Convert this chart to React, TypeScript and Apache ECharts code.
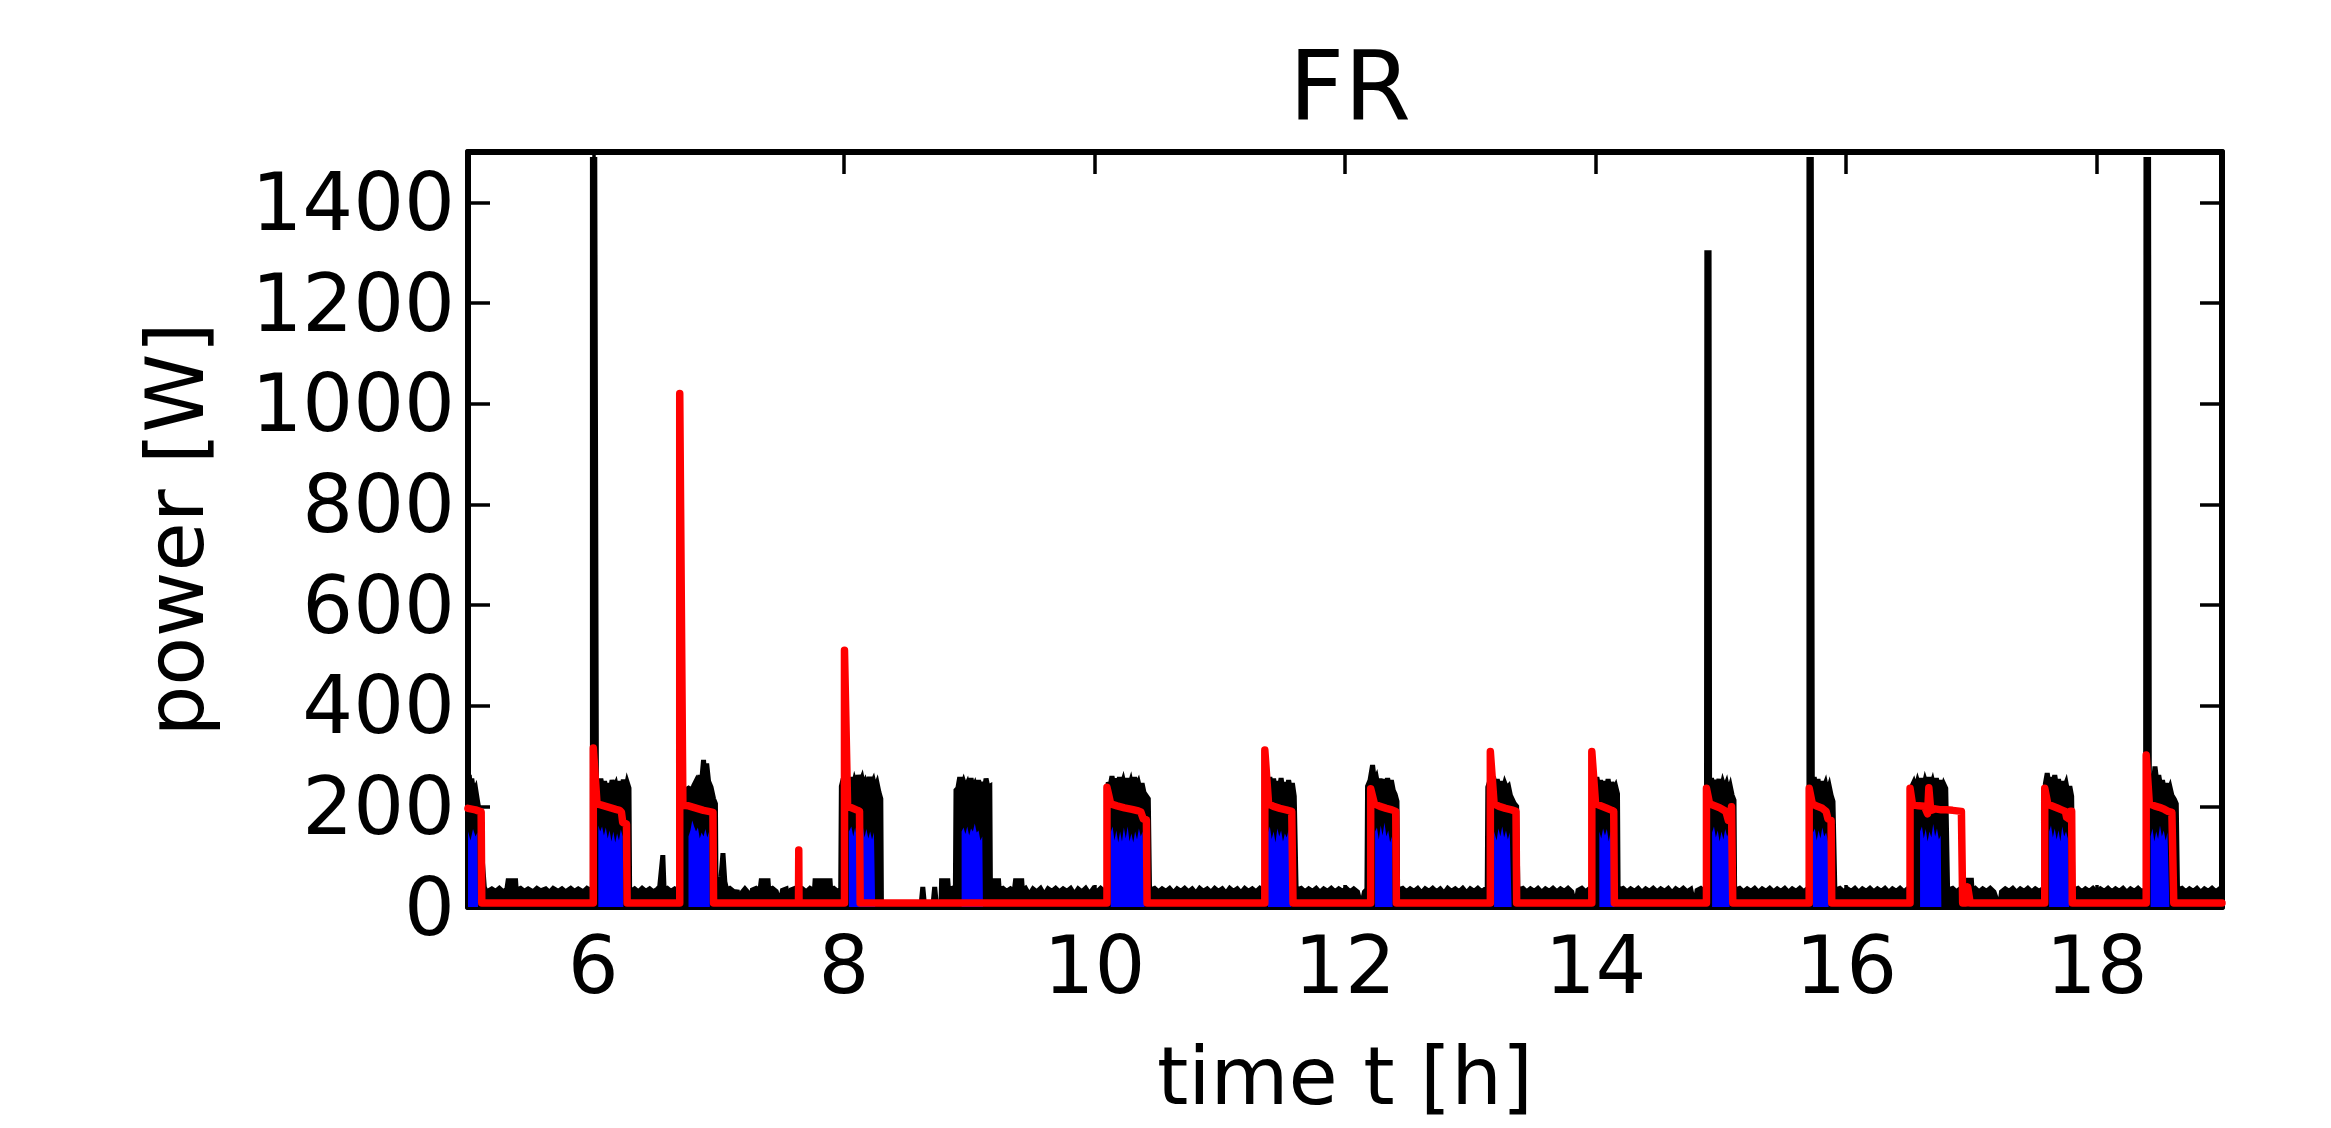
import React, { useEffect, useRef } from "react";
import * as echarts from "echarts";

const titleText = "FR";
const xName = "time t [h]";
const yName = "power [W]";
const xTicks = [6, 8, 10, 12, 14, 16, 18];
const yTicks = [0, 200, 400, 600, 800, 1000, 1200, 1400];

// measured power (black)
const measuredPower: [number, number][] = [
  [5.0, 250], [5.01, 262], [5.02, 238], [5.03, 255], [5.045, 228], [5.06, 236], [5.075, 212], [5.09, 190], [5.1, 150], [5.115, 90], [5.13, 40], [5.14, 33],
  [5.15, 30], [5.19, 36], [5.22, 31], [5.25, 37], [5.28, 30], [5.31, 35], [5.32, 52], [5.38, 52], [5.385, 33], [5.42, 37], [5.45, 31], [5.48, 36], [5.52, 30], [5.55, 37], [5.58, 32], [5.62, 36], [5.65, 29], [5.68, 37], [5.72, 31], [5.75, 36], [5.78, 30], [5.82, 37], [5.85, 31], [5.88, 36], [5.92, 30], [5.95, 37], [5.985, 32],
  [5.993, 35], [5.993, 1485], [6.012, 1485], [6.025, 250],
  [6.03, 248], [6.045, 232], [6.06, 255], [6.075, 236], [6.09, 250], [6.105, 228], [6.12, 246], [6.135, 231], [6.15, 252], [6.165, 235], [6.18, 244], [6.195, 226], [6.21, 250], [6.225, 232], [6.24, 253], [6.255, 230], [6.27, 248], [6.285, 236], [6.29, 36],
  [6.3, 31], [6.33, 36], [6.36, 30], [6.39, 37], [6.42, 31], [6.45, 36], [6.48, 30], [6.51, 35], [6.53, 40], [6.555, 103], [6.565, 35], [6.59, 37], [6.62, 31], [6.65, 36], [6.68, 32],
  [6.71, 32], [6.715, 235], [6.74, 233], [6.76, 236], [6.78, 232], [6.8, 240], [6.82, 250], [6.835, 238], [6.85, 262], [6.865, 250], [6.88, 292], [6.89, 255], [6.905, 285], [6.92, 250], [6.94, 238], [6.96, 215], [6.975, 205], [6.98, 35],
  [6.99, 33], [7.02, 60], [7.035, 107], [7.05, 50], [7.065, 34], [7.09, 37], [7.12, 31], [7.15, 30], [7.16, 0], [7.18, 0], [7.19, 30], [7.21, 36], [7.23, 30], [7.245, 0], [7.255, 0], [7.27, 34], [7.3, 37], [7.33, 32], [7.34, 52], [7.395, 52], [7.4, 34], [7.43, 37], [7.46, 31], [7.49, 6], [7.51, 33], [7.54, 36], [7.56, 8], [7.58, 34], [7.61, 37], [7.64, 31], [7.67, 36], [7.7, 30], [7.73, 37], [7.765, 32], [7.77, 52], [7.89, 52], [7.895, 34], [7.92, 37], [7.95, 31], [7.975, 35],
  [7.98, 240], [7.995, 255], [8.01, 238], [8.025, 262], [8.04, 244], [8.055, 258], [8.07, 236], [8.085, 252], [8.1, 240], [8.115, 262], [8.13, 246], [8.145, 256], [8.16, 238], [8.175, 250], [8.19, 242], [8.205, 258], [8.22, 244], [8.235, 252], [8.25, 236], [8.265, 246], [8.28, 228], [8.295, 215], [8.3, 0],
  [8.615, 0], [8.63, 40], [8.645, 0], [8.71, 0], [8.725, 40], [8.74, 0], [8.775, 0], [8.78, 52], [8.83, 52], [8.835, 34], [8.865, 37], [8.89, 32],
  [8.895, 232], [8.91, 236], [8.925, 258], [8.94, 240], [8.955, 250], [8.97, 238], [8.985, 246], [9.0, 230], [9.015, 256], [9.03, 236], [9.045, 244], [9.06, 230], [9.075, 252], [9.09, 234], [9.105, 248], [9.12, 232], [9.135, 255], [9.15, 238], [9.165, 240], [9.17, 34],
  [9.175, 34], [9.185, 52], [9.235, 52], [9.24, 34], [9.27, 37], [9.3, 31], [9.33, 36], [9.36, 31], [9.37, 52], [9.42, 52], [9.425, 33], [9.45, 37], [9.48, 24], [9.51, 36], [9.54, 30], [9.57, 37], [9.6, 24], [9.63, 36], [9.66, 31], [9.69, 37], [9.72, 30], [9.75, 36], [9.78, 31], [9.81, 37], [9.84, 25], [9.87, 36], [9.9, 30], [9.93, 37], [9.96, 26], [9.99, 36], [10.02, 30], [10.05, 37], [10.08, 31], [10.105, 35],
  [10.11, 248], [10.125, 240], [10.14, 260], [10.155, 242], [10.17, 255], [10.185, 238], [10.2, 258], [10.215, 240], [10.23, 252], [10.245, 236], [10.26, 256], [10.275, 238], [10.29, 250], [10.305, 232], [10.32, 258], [10.335, 240], [10.35, 248], [10.365, 232], [10.38, 246], [10.395, 228], [10.41, 222], [10.43, 215], [10.44, 34],
  [10.45, 34], [10.48, 37], [10.51, 30], [10.54, 36], [10.57, 31], [10.6, 37], [10.63, 28], [10.66, 36], [10.69, 31], [10.72, 37], [10.75, 30], [10.78, 36], [10.81, 27], [10.84, 37], [10.87, 31], [10.9, 36], [10.93, 29], [10.96, 37], [10.99, 31], [11.02, 36], [11.05, 27], [11.08, 37], [11.11, 31], [11.14, 36], [11.17, 28], [11.2, 37], [11.23, 31], [11.26, 36], [11.29, 30], [11.32, 37], [11.35, 31], [11.38, 35],
  [11.385, 240], [11.4, 258], [11.415, 238], [11.43, 255], [11.445, 232], [11.46, 250], [11.475, 236], [11.49, 256], [11.505, 230], [11.52, 248], [11.535, 226], [11.55, 252], [11.565, 232], [11.58, 246], [11.595, 220], [11.61, 34],
  [11.62, 34], [11.65, 37], [11.68, 30], [11.71, 36], [11.74, 31], [11.77, 37], [11.8, 29], [11.83, 36], [11.86, 31], [11.89, 37], [11.92, 30], [11.95, 36], [11.98, 31], [12.01, 37], [12.04, 30], [12.07, 36], [12.1, 30], [12.13, 0], [12.155, 30], [12.175, 35],
  [12.18, 240], [12.2, 252], [12.22, 282], [12.235, 250], [12.25, 258], [12.265, 238], [12.28, 255], [12.295, 236], [12.31, 254], [12.325, 234], [12.34, 256], [12.355, 238], [12.37, 252], [12.385, 232], [12.4, 224], [12.415, 210], [12.42, 34],
  [12.43, 34], [12.46, 37], [12.49, 30], [12.52, 36], [12.55, 31], [12.58, 37], [12.61, 28], [12.64, 36], [12.67, 31], [12.7, 37], [12.73, 30], [12.76, 36], [12.79, 27], [12.82, 37], [12.85, 31], [12.88, 36], [12.91, 30], [12.94, 37], [12.97, 28], [13.0, 36], [13.03, 31], [13.06, 37], [13.09, 30], [13.12, 36], [13.135, 32],
  [13.14, 238], [13.155, 250], [13.17, 236], [13.185, 259], [13.2, 240], [13.215, 254], [13.23, 236], [13.245, 250], [13.26, 232], [13.275, 246], [13.29, 236], [13.305, 240], [13.32, 222], [13.335, 214], [13.35, 206], [13.37, 200], [13.38, 34],
  [13.39, 34], [13.42, 37], [13.45, 30], [13.48, 36], [13.51, 31], [13.54, 37], [13.57, 29], [13.6, 36], [13.63, 31], [13.66, 37], [13.69, 30], [13.72, 36], [13.75, 31], [13.78, 37], [13.81, 30], [13.84, 0], [13.86, 33], [13.89, 37], [13.92, 30], [13.95, 36], [13.99, 33],
  [13.995, 236], [14.01, 258], [14.025, 240], [14.04, 252], [14.055, 232], [14.07, 250], [14.085, 236], [14.1, 254], [14.115, 230], [14.13, 248], [14.145, 232], [14.16, 240], [14.175, 225], [14.18, 34],
  [14.19, 34], [14.22, 37], [14.25, 30], [14.28, 36], [14.31, 31], [14.34, 37], [14.37, 29], [14.4, 36], [14.43, 31], [14.46, 37], [14.49, 30], [14.52, 36], [14.55, 31], [14.58, 37], [14.61, 28], [14.64, 36], [14.67, 31], [14.7, 37], [14.73, 30], [14.76, 35], [14.79, 0], [14.81, 33], [14.84, 37], [14.87, 31], [14.885, 34],
  [14.888, 34], [14.888, 1300], [14.906, 1300], [14.91, 240], [14.925, 256], [14.94, 236], [14.955, 252], [14.97, 238], [14.985, 254], [15.0, 232], [15.015, 248], [15.03, 236], [15.045, 246], [15.06, 228], [15.075, 240], [15.09, 222], [15.105, 212], [15.11, 34],
  [15.12, 34], [15.15, 37], [15.18, 30], [15.21, 36], [15.24, 31], [15.27, 37], [15.3, 29], [15.33, 36], [15.36, 31], [15.39, 37], [15.42, 30], [15.45, 36], [15.48, 31], [15.51, 37], [15.54, 29], [15.57, 36], [15.6, 31], [15.63, 37], [15.66, 30], [15.69, 36], [15.703, 33],
  [15.703, 1485], [15.722, 1485], [15.73, 245], [15.745, 258], [15.76, 236], [15.775, 254], [15.79, 232], [15.805, 250], [15.82, 236], [15.835, 246], [15.85, 228], [15.865, 240], [15.88, 222], [15.895, 210], [15.91, 34],
  [15.92, 34], [15.95, 37], [15.98, 30], [16.01, 36], [16.04, 31], [16.07, 37], [16.1, 29], [16.13, 36], [16.16, 31], [16.19, 37], [16.22, 30], [16.25, 36], [16.28, 31], [16.31, 37], [16.34, 29], [16.37, 36], [16.4, 31], [16.43, 37], [16.46, 30], [16.49, 36], [16.52, 33],
  [16.525, 240], [16.54, 248], [16.555, 236], [16.57, 250], [16.585, 238], [16.6, 256], [16.615, 236], [16.63, 252], [16.645, 240], [16.66, 258], [16.675, 238], [16.69, 250], [16.705, 234], [16.72, 256], [16.735, 238], [16.75, 252], [16.765, 230], [16.78, 244], [16.795, 236], [16.81, 34],
  [16.82, 34], [16.85, 37], [16.88, 30], [16.91, 36], [16.94, 31], [16.96, 53], [17.0, 53], [17.005, 33], [17.03, 37], [17.06, 30], [17.09, 36], [17.12, 31], [17.15, 37], [17.18, 30], [17.21, 8], [17.225, 0], [17.24, 30], [17.27, 36], [17.3, 31], [17.33, 37], [17.36, 29], [17.39, 36], [17.42, 31], [17.45, 37], [17.48, 30], [17.51, 36], [17.54, 31], [17.57, 36], [17.585, 33],
  [17.59, 245], [17.605, 266], [17.62, 240], [17.635, 258], [17.65, 236], [17.665, 262], [17.68, 238], [17.695, 254], [17.71, 232], [17.725, 250], [17.74, 236], [17.755, 246], [17.77, 226], [17.785, 240], [17.8, 220], [17.81, 34],
  [17.82, 34], [17.85, 37], [17.88, 30], [17.91, 36], [17.94, 31], [17.97, 37], [18.0, 29], [18.03, 36], [18.06, 31], [18.09, 37], [18.12, 30], [18.15, 36], [18.18, 31], [18.21, 37], [18.24, 29], [18.27, 36], [18.3, 31], [18.33, 37], [18.36, 30], [18.39, 35],
  [18.393, 35], [18.393, 1485], [18.414, 1485], [18.42, 240], [18.435, 258], [18.45, 236], [18.465, 279], [18.48, 248], [18.495, 262], [18.51, 240], [18.525, 252], [18.54, 232], [18.555, 246], [18.57, 228], [18.585, 238], [18.6, 222], [18.62, 214], [18.635, 205], [18.645, 34],
  [18.65, 34], [18.68, 37], [18.71, 30], [18.74, 36], [18.77, 31], [18.8, 37], [18.83, 29], [18.86, 36], [18.89, 31], [18.92, 37], [18.95, 30], [18.98, 36], [19.0, 32],
];

// flexible component (blue)
const flexPower: [number, number][] = [
  [5.0, 150], [5.02, 132], [5.04, 155], [5.06, 140], [5.075, 148], [5.08, 0],
  [6.04, 0], [6.04, 162], [6.055, 150], [6.07, 160], [6.085, 142], [6.1, 158], [6.115, 136], [6.13, 152], [6.145, 130], [6.16, 150], [6.175, 128], [6.19, 146], [6.205, 132], [6.22, 154], [6.235, 140], [6.24, 0],
  [6.76, 0], [6.76, 140], [6.775, 152], [6.79, 172], [6.805, 160], [6.82, 150], [6.835, 158], [6.85, 136], [6.865, 148], [6.88, 140], [6.895, 155], [6.91, 138], [6.925, 150], [6.93, 0],
  [8.04, 0], [8.04, 150], [8.06, 160], [8.075, 140], [8.09, 158], [8.105, 134], [8.12, 152], [8.135, 140], [8.15, 162], [8.165, 138], [8.18, 155], [8.195, 136], [8.21, 150], [8.225, 134], [8.24, 148], [8.25, 0],
  [8.94, 0], [8.94, 150], [8.955, 158], [8.97, 145], [8.985, 160], [9.0, 142], [9.015, 156], [9.03, 150], [9.045, 166], [9.06, 148], [9.075, 152], [9.09, 132], [9.105, 140], [9.11, 0],
  [10.13, 0], [10.13, 148], [10.145, 160], [10.16, 132], [10.175, 152], [10.19, 128], [10.205, 150], [10.22, 130], [10.235, 158], [10.25, 136], [10.265, 160], [10.28, 130], [10.295, 146], [10.31, 128], [10.325, 150], [10.34, 134], [10.355, 156], [10.37, 140], [10.385, 150], [10.4, 0],
  [11.385, 0], [11.385, 148], [11.4, 160], [11.415, 135], [11.43, 150], [11.445, 128], [11.46, 156], [11.475, 140], [11.49, 152], [11.505, 130], [11.52, 146], [11.535, 138], [11.55, 154], [11.57, 0],
  [12.24, 0], [12.24, 150], [12.255, 158], [12.27, 134], [12.285, 162], [12.3, 142], [12.315, 168], [12.33, 140], [12.345, 152], [12.36, 128], [12.375, 140], [12.38, 0],
  [13.19, 0], [13.19, 150], [13.21, 132], [13.225, 156], [13.24, 140], [13.255, 160], [13.27, 138], [13.285, 152], [13.3, 134], [13.315, 148], [13.33, 0],
  [14.03, 0], [14.03, 150], [14.045, 136], [14.06, 156], [14.075, 142], [14.09, 155], [14.105, 130], [14.12, 150], [14.135, 138], [14.15, 0],
  [14.93, 0], [14.93, 148], [14.945, 160], [14.96, 138], [14.975, 152], [14.99, 130], [15.005, 150], [15.02, 134], [15.035, 155], [15.05, 140], [15.065, 150], [15.07, 0],
  [15.735, 0], [15.735, 148], [15.75, 156], [15.765, 132], [15.78, 152], [15.795, 136], [15.81, 158], [15.825, 140], [15.84, 148], [15.855, 130], [15.86, 0],
  [16.59, 0], [16.59, 150], [16.605, 160], [16.62, 136], [16.635, 155], [16.65, 130], [16.665, 150], [16.68, 138], [16.695, 165], [16.71, 140], [16.725, 156], [16.74, 134], [16.755, 142], [16.76, 0],
  [17.62, 0], [17.62, 150], [17.635, 162], [17.65, 138], [17.665, 156], [17.68, 134], [17.695, 152], [17.71, 130], [17.725, 160], [17.74, 140], [17.755, 150], [17.77, 136], [17.78, 0],
  [18.43, 0], [18.43, 140], [18.445, 156], [18.46, 130], [18.475, 150], [18.49, 135], [18.505, 162], [18.52, 140], [18.535, 152], [18.55, 132], [18.565, 148], [18.58, 0],
  [19.0, 0],
];

// model / schedule (red)
const modelPower: [number, number][] = [
  [5.0, 196], [5.06, 193], [5.105, 189], [5.11, 8],
  [6.0, 8], [6.0, 316], [6.03, 205], [6.06, 203], [6.1, 200], [6.14, 197], [6.18, 194], [6.21, 192], [6.225, 188], [6.235, 168], [6.265, 165], [6.27, 8],
  [6.69, 8], [6.69, 1020], [6.715, 202], [6.76, 201], [6.8, 198], [6.84, 195], [6.88, 192], [6.92, 190], [6.955, 188], [6.96, 8],
  [7.638, 8], [7.64, 113], [7.642, 8],
  [8.005, 8], [8.005, 510], [8.03, 200], [8.07, 196], [8.11, 192], [8.125, 190], [8.13, 8],
  [10.1, 8], [10.1, 238], [10.13, 205], [10.18, 201], [10.24, 197], [10.3, 194], [10.35, 191], [10.37, 189], [10.39, 175], [10.415, 173], [10.42, 8],
  [11.36, 8], [11.36, 312], [11.39, 205], [11.43, 200], [11.48, 196], [11.53, 193], [11.575, 190], [11.585, 8],
  [12.205, 8], [12.205, 235], [12.235, 205], [12.28, 200], [12.33, 196], [12.375, 193], [12.405, 190], [12.41, 8],
  [13.16, 8], [13.16, 309], [13.19, 205], [13.23, 200], [13.28, 196], [13.33, 193], [13.365, 190], [13.37, 8],
  [13.97, 8], [13.97, 309], [14.0, 205], [14.05, 200], [14.09, 196], [14.13, 192], [14.145, 190], [14.15, 8],
  [14.885, 8], [14.885, 236], [14.91, 205], [14.95, 201], [14.99, 197], [15.04, 190], [15.06, 172], [15.075, 172], [15.085, 199], [15.095, 8],
  [15.705, 8], [15.705, 236], [15.73, 205], [15.77, 200], [15.81, 196], [15.84, 190], [15.855, 175], [15.88, 172], [15.885, 8],
  [16.51, 8], [16.51, 236], [16.53, 203], [16.58, 201], [16.625, 200], [16.65, 185], [16.66, 237], [16.675, 192], [16.71, 195], [16.76, 193], [16.8, 193], [16.85, 192], [16.92, 190], [16.93, 8], [16.955, 8], [16.97, 40], [16.99, 8],
  [17.585, 8], [17.585, 236], [17.61, 204], [17.65, 200], [17.69, 196], [17.72, 193], [17.75, 190], [17.76, 178], [17.78, 175], [17.79, 190], [17.8, 190], [17.805, 8],
  [18.395, 8], [18.395, 302], [18.42, 205], [18.46, 201], [18.5, 198], [18.54, 194], [18.57, 190], [18.6, 188], [18.615, 8],
  [19.0, 8],
];

const FONT = "DejaVu Sans";

export default function App() {
  const ref = useRef<HTMLDivElement>(null);
  useEffect(() => {
    if (!ref.current) return;
    const chart = echarts.init(ref.current, undefined, { renderer: "svg" });
    const axisLine = { show: true, onZero: false, lineStyle: { color: "#000", width: 6 } };
    const tickStyle = { color: "#000", width: 3.5 };
    const plain = (v: number) => String(v);
    chart.setOption({
      animation: false,
      backgroundColor: "#fff",
      title: {
        text: titleText,
        left: 1345,
        top: 34,
        textAlign: "center",
        textStyle: { fontFamily: FONT, fontSize: 96, fontWeight: "normal", color: "#000" },
      },
      grid: { left: 468, right: 109, top: 152, bottom: 221, containLabel: false },
      xAxis: [
        {
          type: "value", min: 5, max: 19, position: "bottom",
          axisLine,
          axisTick: { show: true, inside: true, length: 22, lineStyle: tickStyle, customValues: xTicks },
          axisLabel: { show: true, customValues: xTicks, formatter: plain, fontFamily: FONT, fontSize: 80, color: "#000", margin: 18 },
          splitLine: { show: false },
          name: xName, nameLocation: "middle", nameGap: 129,
          nameTextStyle: { fontFamily: FONT, fontSize: 80, color: "#000" },
        },
        {
          type: "value", min: 5, max: 19, position: "top",
          axisLine,
          axisTick: { show: true, inside: true, length: 22, lineStyle: tickStyle, customValues: xTicks },
          axisLabel: { show: false },
          splitLine: { show: false },
        },
      ],
      yAxis: [
        {
          type: "value", min: 0, max: 1500, position: "left",
          axisLine,
          axisTick: { show: true, inside: true, length: 22, lineStyle: tickStyle, customValues: yTicks },
          axisLabel: { show: true, customValues: yTicks, formatter: plain, fontFamily: FONT, fontSize: 80, color: "#000", margin: 13 },
          splitLine: { show: false },
          name: yName, nameLocation: "middle", nameGap: 253, nameRotate: 90,
          nameTextStyle: { fontFamily: FONT, fontSize: 80, color: "#000" },
        },
        {
          type: "value", min: 0, max: 1500, position: "right",
          axisLine,
          axisTick: { show: true, inside: true, length: 22, lineStyle: tickStyle, customValues: yTicks },
          axisLabel: { show: false },
          splitLine: { show: false },
        },
      ],
      series: [
        {
          type: "line", data: measuredPower, xAxisIndex: 0, yAxisIndex: 0,
          symbol: "none", showSymbol: false,
          lineStyle: { color: "#000", width: 5, join: "miter" },
          areaStyle: { color: "#000", opacity: 1 },
          z: 2,
        },
        {
          type: "line", data: flexPower, xAxisIndex: 0, yAxisIndex: 0,
          symbol: "none", showSymbol: false,
          lineStyle: { color: "#0000ff", width: 0 },
          areaStyle: { color: "#0000ff", opacity: 1 },
          z: 3,
        },
        {
          type: "line", data: modelPower, xAxisIndex: 0, yAxisIndex: 0,
          symbol: "none", showSymbol: false,
          lineStyle: { color: "#ff0000", width: 7.5, cap: "round", join: "round" },
          z: 4,
        },
      ],
    });
    return () => chart.dispose();
  }, []);
  return (
    <div
      ref={ref}
      style={{ position: "fixed", left: 0, top: 0, width: 2331, height: 1128, background: "#fff" }}
    />
  );
}
